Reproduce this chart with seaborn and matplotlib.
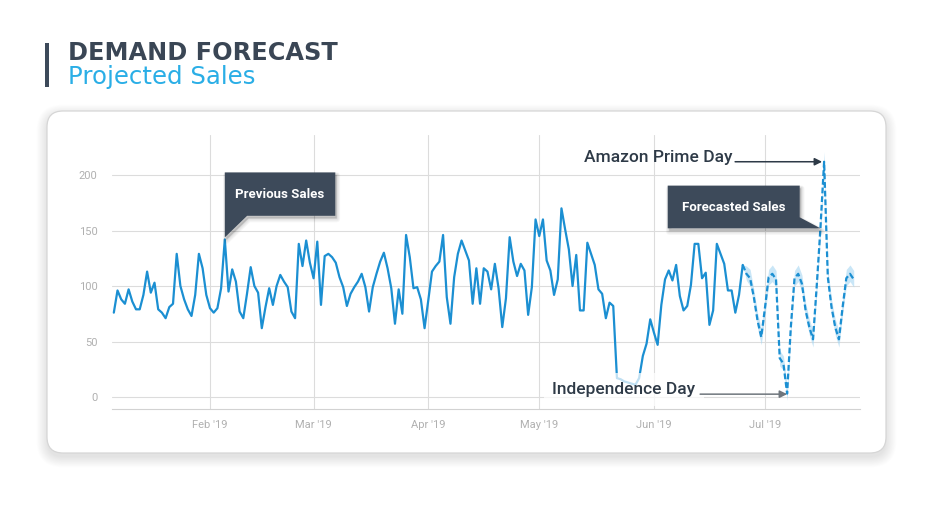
import numpy as np
import pandas as pd
import matplotlib
matplotlib.use("Agg")
import matplotlib.pyplot as plt
import matplotlib.dates as mdates
from matplotlib.patches import FancyBboxPatch, Polygon
import seaborn as sns

# ---------------- data ----------------
history_start = "2019-01-06"
jan = [76, 96, 88, 84, 97, 86, 79, 79, 92, 113, 94, 103, 79, 76, 71, 81, 84, 129, 100, 88,
       79, 73, 92, 129, 116, 92]
feb = [80, 76, 80, 98, 142, 95, 115, 104, 77, 71, 93, 117, 100, 94, 62, 81, 98, 83, 100, 110,
       104, 99, 77, 71, 138, 118, 141, 121]
mar = [107, 140, 83, 127, 129, 126, 121, 108, 99, 82, 93, 99, 104, 111, 99, 77, 99, 111, 122, 130,
       116, 98, 66, 97, 75, 146, 126, 98, 99, 88, 62]
apr = [87, 113, 118, 122, 146, 90, 66, 108, 129, 141, 132, 123, 84, 116, 84, 116, 113, 97, 120, 98,
       63, 89, 144, 122, 109, 120, 114, 74, 99, 160]
may = [145, 160, 123, 114, 92, 106, 170, 151, 133, 100, 128, 78, 78, 139, 129, 119, 97, 93, 71, 85,
       82, 17, 16, 14, 13, 12, 11, 17, 37, 48, 70]
jun = [58, 47, 83, 106, 114, 105, 119, 91, 78, 82, 101, 138, 138, 107, 112, 65, 78, 138, 129, 120,
       96, 96, 76, 92, 119]
history_values = jan + feb + mar + apr + may + jun

forecast_start = "2019-06-25"
forecast_values = [119, 111, 107, 90, 69, 54, 80, 108, 111, 106, 35, 30, 3, 63, 107, 111, 102, 78,
                   63, 52, 100, 152, 212, 108, 81, 63, 52, 81, 107, 111, 106]
forecast_upper = [119, 118, 115, 97, 76, 62, 88, 115, 119, 114, 42, 37, 10, 70, 114, 119, 110, 85,
                  70, 60, 108, 160, 221, 116, 88, 70, 60, 89, 115, 119, 114]
forecast_lower = [119, 105, 100, 84, 62, 47, 73, 101, 104, 99, 28, 24, -3, 56, 100, 104, 95, 71,
                  56, 45, 93, 144, 203, 101, 74, 56, 45, 74, 100, 104, 99]

month_ticks = ["2019-02-01", "2019-03-01", "2019-04-01", "2019-05-01", "2019-06-01", "2019-07-01"]
month_labels = ["Feb '19", "Mar '19", "Apr '19", "May '19", "Jun '19", "Jul '19"]
y_ticks = [0, 50, 100, 150, 200]

title = "DEMAND FORECAST"
subtitle = "Projected Sales"
callout_prev = ("Previous Sales", "2019-02-05", 142)
callout_fcst = ("Forecasted Sales", "2019-07-16", 152)
event_prime = ("Amazon Prime Day", "2019-07-17", 212)
event_indep = ("Independence Day", "2019-07-07", 3)

# ---------------- frames ----------------
hist_df = pd.DataFrame({
    "date": pd.date_range(history_start, periods=len(history_values), freq="D"),
    "sales": history_values,
})
fc_df = pd.DataFrame({
    "date": pd.date_range(forecast_start, periods=len(forecast_values), freq="D"),
    "sales": forecast_values,
    "lower": forecast_lower,
    "upper": forecast_upper,
})

# ---------------- style ----------------
sns.set_style("white")
plt.rcParams["font.family"] = ["Roboto", "DejaVu Sans"]

W, H = 933, 519
fig = plt.figure(figsize=(W / 100, H / 100), dpi=100)
fig.patch.set_facecolor("white")

LINE = "#1b8fd2"
DARK = "#3d4a5a"

# background layer in pixel coordinates
bg = fig.add_axes([0, 0, 1, 1], zorder=0)
bg.set_xlim(0, W)
bg.set_ylim(H, 0)
bg.axis("off")

# header
bg.add_patch(plt.Rectangle((45, 42.5), 4.3, 44.5, color=DARK, lw=0))
bg.text(68, 59.8, title, fontsize=17.3, fontweight="bold", color="#3a4655",
        family="DejaVu Sans", va="baseline", ha="left")
bg.text(67.5, 83.8, subtitle, fontsize=17.6, color="#2aaee6",
        family="DejaVu Sans", va="baseline", ha="left")

# card with soft shadow
cx, cy, cw, ch = 47, 111, 839, 342
for i in range(14):
    bg.add_patch(FancyBboxPatch((cx - i * 0.8, cy - i * 0.8 + 4), cw + i * 1.6, ch + i * 1.6,
                                boxstyle=f"round,pad=0,rounding_size={16 + i * 0.8}",
                                facecolor="black", edgecolor="none", alpha=0.009))
bg.add_patch(FancyBboxPatch((cx, cy), cw, ch, boxstyle="round,pad=0,rounding_size=16",
                            facecolor="white", edgecolor="#d6d6d6", lw=0.9))

# ---------------- main axes ----------------
ax_l, ax_r, ax_t, ax_b = 112, 860, 135, 409.3
ax = fig.add_axes([ax_l / W, 1 - ax_b / H, (ax_r - ax_l) / W, (ax_b - ax_t) / H], zorder=1)
ax.patch.set_alpha(0)

ax.fill_between(fc_df["date"], fc_df["lower"], fc_df["upper"], color="#a6d6f2",
                alpha=0.6, lw=0, zorder=2)
sns.lineplot(data=hist_df, x="date", y="sales", ax=ax, color=LINE, lw=1.6, zorder=3)
sns.lineplot(data=fc_df, x="date", y="sales", ax=ax, color=LINE, lw=1.6, zorder=3)
ax.lines[-1].set_dashes((2.6, 1.3))

x0 = mdates.date2num(pd.Timestamp(history_start)) - 0.49
x1 = mdates.date2num(pd.Timestamp("2019-07-01")) + 25.7
ax.set_xlim(x0, x1)
ax.set_ylim(-11.1, 236.1)
ax.set_xticks(mdates.date2num(pd.to_datetime(month_ticks)))
ax.set_xticklabels(month_labels)
ax.set_yticks(y_ticks)
ax.set_xlabel("")
ax.set_ylabel("")
ax.grid(True, color="#dcdcdc", lw=0.8)
ax.set_axisbelow(True)
for s in ["left", "top", "right"]:
    ax.spines[s].set_visible(False)
ax.spines["bottom"].set_color("#d2d2d2")
ax.spines["bottom"].set_linewidth(0.8)
ax.tick_params(axis="both", length=0, labelsize=8, labelcolor="#b0b0b0")
ax.tick_params(axis="y", pad=10.5)
ax.tick_params(axis="x", pad=8)

# ---------------- overlay (annotations) ----------------
top = fig.add_axes([0, 0, 1, 1], zorder=5)
top.set_xlim(0, W)
top.set_ylim(H, 0)
top.axis("off")


def px(date, val):
    x, y = ax.transData.transform((mdates.date2num(pd.Timestamp(date)), val))
    return x, H - y


def shadowed_poly(pts):
    for i in range(5):
        top.add_patch(Polygon([(x + 1.5, y + 2 + i * 0.3) for x, y in pts], closed=True,
                              facecolor="black", edgecolor="black", lw=i * 1.2, alpha=0.035,
                              joinstyle="round"))
    top.add_patch(Polygon(pts, closed=True, facecolor=DARK, edgecolor="none"))


# Previous Sales callout (tip bottom-left)
tx, ty = px(callout_prev[1], callout_prev[2])
ty -= 2
bl, br, bt, bb = tx, tx + 110.5, ty - 65, ty - 21.6
shadowed_poly([(bl, bt), (br, bt), (br, bb), (bl + 22.3, bb), (tx, ty), (bl, bb)])
top.text((bl + br) / 2, (bt + bb) / 2 + 0.5, callout_prev[0], color="white", fontsize=9.5,
         fontweight="bold", ha="center", va="center")

# Forecasted Sales callout (tip bottom-right)
tx, ty = px(callout_fcst[1], callout_fcst[2])
br = tx - 20.7
bl, bt, bb = br - 132, ty - 42.7, ty
shadowed_poly([(bl, bt), (br, bt), (br, bb - 11), (tx, ty), (bl, bb)])
top.text((bl + br) / 2, (bt + bb) / 2 + 0.5, callout_fcst[0], color="white", fontsize=9.5,
         fontweight="bold", ha="center", va="center")

# Amazon Prime Day arrow
tx, ty = px(event_prime[1], event_prime[2])
tx -= 2
top.annotate("", xy=(tx, ty), xytext=(tx - 87, ty),
             arrowprops=dict(arrowstyle="-|>", color="#2e3a47", lw=1.1, mutation_scale=11,
                             shrinkA=0, shrinkB=0))
top.text(tx - 89.5, ty, event_prime[0], fontsize=12.5, color="#2e3a47", fontweight="medium",
         ha="right", va="baseline")

# Independence Day arrow
tx, ty = px(event_indep[1], event_indep[2])
top.text(tx - 91.5, ty + 0.5, event_indep[0], fontsize=12.5, color="#2e3a47",
         fontweight="medium", ha="right", va="baseline",
         bbox=dict(boxstyle="square,pad=0.5", facecolor="white", edgecolor="none", alpha=0.72))
top.annotate("", xy=(tx, ty + 0.5), xytext=(tx - 87, ty + 0.5),
             arrowprops=dict(arrowstyle="-|>", color="#6f767d", lw=1.1, mutation_scale=11,
                             shrinkA=0, shrinkB=0))

fig.savefig("out.png", dpi=100, facecolor="white")
